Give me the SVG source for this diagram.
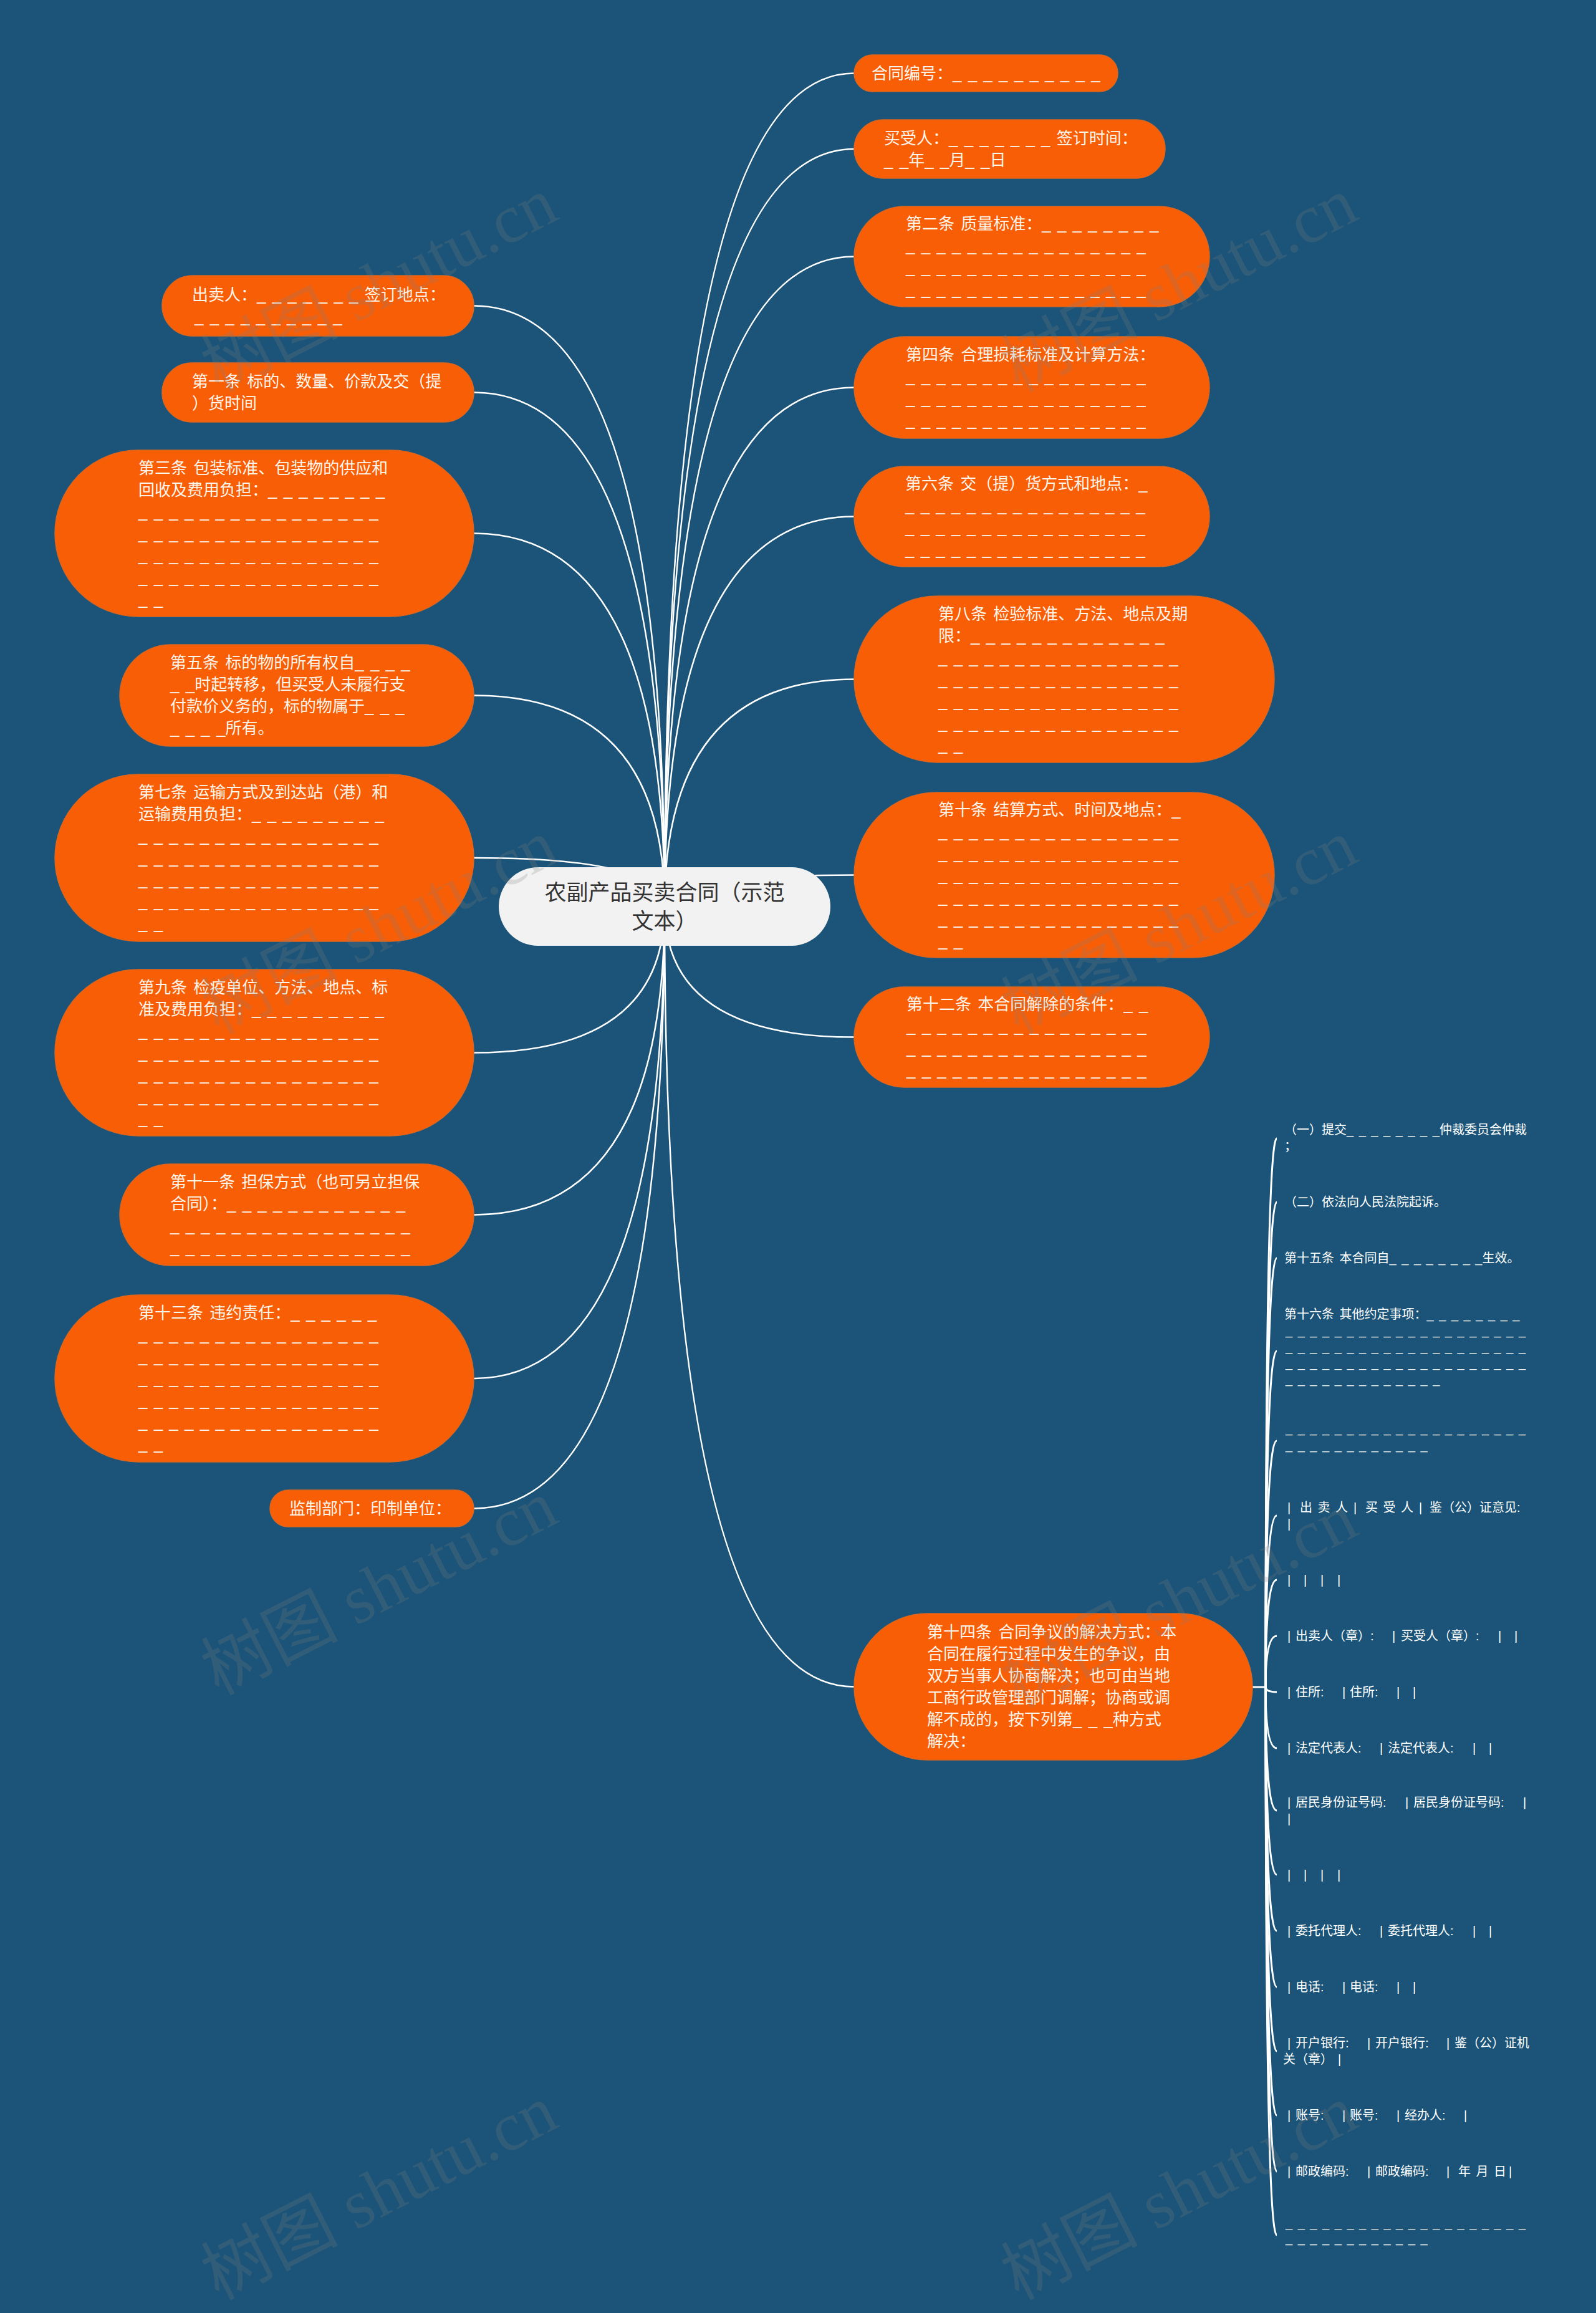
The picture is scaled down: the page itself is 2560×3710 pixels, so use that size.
<svg xmlns="http://www.w3.org/2000/svg" width="2560" height="3710" viewBox="0 0 2560 3710">
<style>
.bg{fill:#1b5478}
.n{fill:#f85e06;stroke:#dc661e;stroke-width:1.5}
.root{fill:#f2f2f2}
.t{font-family:"Liberation Sans","Noto Sans CJK SC",sans-serif;font-size:26px;fill:#fdf6ec;word-spacing:3px}
.rt{font-family:"Liberation Sans","Noto Sans CJK SC",sans-serif;font-size:35px;fill:#333333;text-anchor:middle}
.c{font-family:"Liberation Sans","Noto Sans CJK SC",sans-serif;font-size:20px;fill:#ffffff;word-spacing:3px}
.e{fill:none;stroke:#ffffff;stroke-width:2.5}
.e2{fill:none;stroke:#ffffff;stroke-width:3}
.wm{font-family:"Liberation Serif","Noto Sans CJK SC",serif;font-size:110px;fill:#808080;opacity:0.22}
</style>
<rect class="bg" x="0" y="0" width="2560" height="3710"/>

<g id="connectors">
<path class="e" d="M1066 1454 Q1066 117.5 1370 117.5"/>
<path class="e" d="M1066 1454 Q1066 239 1370 239"/>
<path class="e" d="M1066 1454 Q1066 411.5 1370 411.5"/>
<path class="e" d="M1066 1454 Q1066 621.5 1370 621.5"/>
<path class="e" d="M1066 1454 Q1066 828.5 1370 828.5"/>
<path class="e" d="M1066 1454 Q1066 1089.5 1370 1089.5"/>
<path class="e" d="M1066 1454 Q1066 1403.5 1370 1403.5"/>
<path class="e" d="M1066 1454 Q1066 1663.5 1370 1663.5"/>
<path class="e" d="M1066 1454 Q1066 2705.5 1370 2705.5"/>
<path class="e" d="M1066 1454 Q1066 490.5 760 490.5"/>
<path class="e" d="M1066 1454 Q1066 629.5 760 629.5"/>
<path class="e" d="M1066 1454 Q1066 855.5 760 855.5"/>
<path class="e" d="M1066 1454 Q1066 1115.5 760 1115.5"/>
<path class="e" d="M1066 1454 Q1066 1376 760 1376"/>
<path class="e" d="M1066 1454 Q1066 1688.5 760 1688.5"/>
<path class="e" d="M1066 1454 Q1066 1948.5 760 1948.5"/>
<path class="e" d="M1066 1454 Q1066 2211 760 2211"/>
<path class="e" d="M1066 1454 Q1066 2419.5 760 2419.5"/>
<path class="e2" d="M2009 2706 L2030 2706"/>
<path class="e2" d="M2030 2706 Q2030 1826 2048 1826"/>
<path class="e2" d="M2030 2706 Q2030 1928 2048 1928"/>
<path class="e2" d="M2030 2706 Q2030 2018 2048 2018"/>
<path class="e2" d="M2030 2706 Q2030 2167 2048 2167"/>
<path class="e2" d="M2030 2706 Q2030 2311 2048 2311"/>
<path class="e2" d="M2030 2706 Q2030 2431 2048 2431"/>
<path class="e2" d="M2030 2706 Q2030 2534 2048 2534"/>
<path class="e2" d="M2030 2706 Q2030 2624 2048 2624"/>
<path class="e2" d="M2030 2706 Q2030 2714 2048 2714"/>
<path class="e2" d="M2030 2706 Q2030 2804 2048 2804"/>
<path class="e2" d="M2030 2706 Q2030 2904 2048 2904"/>
<path class="e2" d="M2030 2706 Q2030 3007 2048 3007"/>
<path class="e2" d="M2030 2706 Q2030 3097 2048 3097"/>
<path class="e2" d="M2030 2706 Q2030 3187 2048 3187"/>
<path class="e2" d="M2030 2706 Q2030 3290 2048 3290"/>
<path class="e2" d="M2030 2706 Q2030 3393 2048 3393"/>
<path class="e2" d="M2030 2706 Q2030 3483 2048 3483"/>
<path class="e2" d="M2030 2706 Q2030 3585 2048 3585"/>
</g>

<g id="root">
<rect class="root" x="800" y="1391" width="532" height="126" rx="63"/>
<text class="rt"><tspan x="1066" y="1444">农副产品买卖合同（示范</tspan><tspan x="1066" y="1490">文本）</tspan></text>
</g>

<g id="r1"><rect class="n" x="1370" y="88" width="423" height="59" rx="29.5"/>
<text class="t"><tspan x="1398" y="126.5">合同编号：_ _ _ _ _ _ _ _ _ _</tspan></text></g>

<g id="r2"><rect class="n" x="1370" y="192" width="499" height="94" rx="47"/>
<text class="t"><tspan x="1418" y="230.5">买受人：_ _ _ _ _ _ _ 签订时间：</tspan><tspan x="1418" y="265.5">_ _年_ _月_ _日</tspan></text></g>

<g id="r3"><rect class="n" x="1370" y="331" width="570" height="161" rx="80.5"/>
<text class="t"><tspan x="1453" y="368">第二条 质量标准：_ _ _ _ _ _ _ _</tspan><tspan x="1453" y="403">_ _ _ _ _ _ _ _ _ _ _ _ _ _ _ _</tspan><tspan x="1453" y="438">_ _ _ _ _ _ _ _ _ _ _ _ _ _ _ _</tspan><tspan x="1453" y="473">_ _ _ _ _ _ _ _ _ _ _ _ _ _ _ _</tspan></text></g>

<g id="r4"><rect class="n" x="1370" y="540" width="570" height="163" rx="81.5"/>
<text class="t"><tspan x="1453" y="578">第四条 合理损耗标准及计算方法：</tspan><tspan x="1453" y="613">_ _ _ _ _ _ _ _ _ _ _ _ _ _ _ _</tspan><tspan x="1453" y="648">_ _ _ _ _ _ _ _ _ _ _ _ _ _ _ _</tspan><tspan x="1453" y="683">_ _ _ _ _ _ _ _ _ _ _ _ _ _ _ _</tspan></text></g>

<g id="r5"><rect class="n" x="1370" y="748" width="570" height="161" rx="80.5"/>
<text class="t"><tspan x="1452" y="785">第六条 交（提）货方式和地点：_</tspan><tspan x="1452" y="820">_ _ _ _ _ _ _ _ _ _ _ _ _ _ _ _</tspan><tspan x="1452" y="855">_ _ _ _ _ _ _ _ _ _ _ _ _ _ _ _</tspan><tspan x="1452" y="890">_ _ _ _ _ _ _ _ _ _ _ _ _ _ _ _</tspan></text></g>

<g id="r6"><rect class="n" x="1370" y="956" width="674" height="267" rx="133.5"/>
<text class="t"><tspan x="1505" y="993.5">第八条 检验标准、方法、地点及期</tspan><tspan x="1505" y="1028.5">限：_ _ _ _ _ _ _ _ _ _ _ _ _</tspan><tspan x="1505" y="1063.5">_ _ _ _ _ _ _ _ _ _ _ _ _ _ _ _</tspan><tspan x="1505" y="1098.5">_ _ _ _ _ _ _ _ _ _ _ _ _ _ _ _</tspan><tspan x="1505" y="1133.5">_ _ _ _ _ _ _ _ _ _ _ _ _ _ _ _</tspan><tspan x="1505" y="1168.5">_ _ _ _ _ _ _ _ _ _ _ _ _ _ _ _</tspan><tspan x="1505" y="1203.5">_ _</tspan></text></g>

<g id="r7"><rect class="n" x="1370" y="1271" width="674" height="265" rx="132.5"/>
<text class="t"><tspan x="1505" y="1307.5">第十条 结算方式、时间及地点：_</tspan><tspan x="1505" y="1342.5">_ _ _ _ _ _ _ _ _ _ _ _ _ _ _ _</tspan><tspan x="1505" y="1377.5">_ _ _ _ _ _ _ _ _ _ _ _ _ _ _ _</tspan><tspan x="1505" y="1412.5">_ _ _ _ _ _ _ _ _ _ _ _ _ _ _ _</tspan><tspan x="1505" y="1447.5">_ _ _ _ _ _ _ _ _ _ _ _ _ _ _ _</tspan><tspan x="1505" y="1482.5">_ _ _ _ _ _ _ _ _ _ _ _ _ _ _ _</tspan><tspan x="1505" y="1517.5">_ _</tspan></text></g>

<g id="r8"><rect class="n" x="1370" y="1583" width="570" height="161" rx="80.5"/>
<text class="t"><tspan x="1454" y="1620">第十二条 本合同解除的条件：_ _</tspan><tspan x="1454" y="1655">_ _ _ _ _ _ _ _ _ _ _ _ _ _ _ _</tspan><tspan x="1454" y="1690">_ _ _ _ _ _ _ _ _ _ _ _ _ _ _ _</tspan><tspan x="1454" y="1725">_ _ _ _ _ _ _ _ _ _ _ _ _ _ _ _</tspan></text></g>

<g id="r9"><rect class="n" x="1370" y="2588" width="639" height="235" rx="117.5"/>
<text class="t"><tspan x="1487" y="2627">第十四条 合同争议的解决方式：本</tspan><tspan x="1487" y="2662">合同在履行过程中发生的争议，由</tspan><tspan x="1487" y="2697">双方当事人协商解决；也可由当地</tspan><tspan x="1487" y="2732">工商行政管理部门调解；协商或调</tspan><tspan x="1487" y="2767">解不成的，按下列第_ _ _种方式</tspan><tspan x="1487" y="2802">解决：</tspan></text></g>

<g id="l1"><rect class="n" x="260" y="442" width="500" height="97" rx="48.5"/>
<text class="t"><tspan x="308" y="482">出卖人：_ _ _ _ _ _ _ 签订地点：</tspan><tspan x="312" y="517">_ _ _ _ _ _ _ _ _ _</tspan></text></g>

<g id="l2"><rect class="n" x="260" y="582" width="500" height="95" rx="47.5"/>
<text class="t"><tspan x="308" y="621">第一条 标的、数量、价款及交（提</tspan><tspan x="308" y="656">）货时间</tspan></text></g>

<g id="l3"><rect class="n" x="88" y="722" width="672" height="267" rx="133.5"/>
<text class="t"><tspan x="222" y="759.5">第三条 包装标准、包装物的供应和</tspan><tspan x="222" y="794.5">回收及费用负担：_ _ _ _ _ _ _ _</tspan><tspan x="222" y="829.5">_ _ _ _ _ _ _ _ _ _ _ _ _ _ _ _</tspan><tspan x="222" y="864.5">_ _ _ _ _ _ _ _ _ _ _ _ _ _ _ _</tspan><tspan x="222" y="899.5">_ _ _ _ _ _ _ _ _ _ _ _ _ _ _ _</tspan><tspan x="222" y="934.5">_ _ _ _ _ _ _ _ _ _ _ _ _ _ _ _</tspan><tspan x="222" y="969.5">_ _</tspan></text></g>

<g id="l4"><rect class="n" x="192" y="1034" width="568" height="163" rx="81.5"/>
<text class="t"><tspan x="273" y="1072">第五条 标的物的所有权自_ _ _ _</tspan><tspan x="273" y="1107">_ _时起转移，但买受人未履行支</tspan><tspan x="273" y="1142">付款价义务的，标的物属于_ _ _</tspan><tspan x="273" y="1177">_ _ _ _所有。</tspan></text></g>

<g id="l5"><rect class="n" x="88" y="1242" width="672" height="268" rx="134"/>
<text class="t"><tspan x="222" y="1280">第七条 运输方式及到达站（港）和</tspan><tspan x="222" y="1315">运输费用负担：_ _ _ _ _ _ _ _ _</tspan><tspan x="222" y="1350">_ _ _ _ _ _ _ _ _ _ _ _ _ _ _ _</tspan><tspan x="222" y="1385">_ _ _ _ _ _ _ _ _ _ _ _ _ _ _ _</tspan><tspan x="222" y="1420">_ _ _ _ _ _ _ _ _ _ _ _ _ _ _ _</tspan><tspan x="222" y="1455">_ _ _ _ _ _ _ _ _ _ _ _ _ _ _ _</tspan><tspan x="222" y="1490">_ _</tspan></text></g>

<g id="l6"><rect class="n" x="88" y="1555" width="672" height="267" rx="133.5"/>
<text class="t"><tspan x="222" y="1592.5">第九条 检疫单位、方法、地点、标</tspan><tspan x="222" y="1627.5">准及费用负担：_ _ _ _ _ _ _ _ _</tspan><tspan x="222" y="1662.5">_ _ _ _ _ _ _ _ _ _ _ _ _ _ _ _</tspan><tspan x="222" y="1697.5">_ _ _ _ _ _ _ _ _ _ _ _ _ _ _ _</tspan><tspan x="222" y="1732.5">_ _ _ _ _ _ _ _ _ _ _ _ _ _ _ _</tspan><tspan x="222" y="1767.5">_ _ _ _ _ _ _ _ _ _ _ _ _ _ _ _</tspan><tspan x="222" y="1802.5">_ _</tspan></text></g>

<g id="l7"><rect class="n" x="192" y="1867" width="568" height="163" rx="81.5"/>
<text class="t"><tspan x="273" y="1905">第十一条 担保方式（也可另立担保</tspan><tspan x="273" y="1940">合同）：_ _ _ _ _ _ _ _ _ _ _ _</tspan><tspan x="273" y="1975">_ _ _ _ _ _ _ _ _ _ _ _ _ _ _ _</tspan><tspan x="273" y="2010">_ _ _ _ _ _ _ _ _ _ _ _ _ _ _ _</tspan></text></g>

<g id="l8"><rect class="n" x="88" y="2077" width="672" height="268" rx="134"/>
<text class="t"><tspan x="222" y="2115">第十三条 违约责任：_ _ _ _ _ _</tspan><tspan x="222" y="2150">_ _ _ _ _ _ _ _ _ _ _ _ _ _ _ _</tspan><tspan x="222" y="2185">_ _ _ _ _ _ _ _ _ _ _ _ _ _ _ _</tspan><tspan x="222" y="2220">_ _ _ _ _ _ _ _ _ _ _ _ _ _ _ _</tspan><tspan x="222" y="2255">_ _ _ _ _ _ _ _ _ _ _ _ _ _ _ _</tspan><tspan x="222" y="2290">_ _ _ _ _ _ _ _ _ _ _ _ _ _ _ _</tspan><tspan x="222" y="2325">_ _</tspan></text></g>

<g id="l9"><rect class="n" x="433" y="2390" width="327" height="59" rx="29.5"/>
<text class="t"><tspan x="464" y="2428.5">监制部门：印制单位：</tspan></text></g>

<g id="c1"><text class="c"><tspan x="2060" y="1819">（一）提交_ _ _ _ _ _ _ _仲裁委员会仲裁</tspan><tspan x="2060" y="1845">；</tspan></text></g>
<g id="c2"><text class="c"><tspan x="2060" y="1935">（二）依法向人民法院起诉。</tspan></text></g>
<g id="c3"><text class="c"><tspan x="2060" y="2025">第十五条 本合同自_ _ _ _ _ _ _ _生效。</tspan></text></g>
<g id="c4"><text class="c"><tspan x="2060" y="2115">第十六条 其他约定事项：_ _ _ _ _ _ _ _</tspan><tspan x="2062" y="2141">_ _ _ _ _ _ _ _ _ _ _ _ _ _ _ _ _ _ _ _</tspan><tspan x="2062" y="2167">_ _ _ _ _ _ _ _ _ _ _ _ _ _ _ _ _ _ _ _</tspan><tspan x="2062" y="2193">_ _ _ _ _ _ _ _ _ _ _ _ _ _ _ _ _ _ _ _</tspan><tspan x="2062" y="2219">_ _ _ _ _ _ _ _ _ _ _ _ _</tspan></text></g>
<g id="c5"><text class="c"><tspan x="2062" y="2298">_ _ _ _ _ _ _ _ _ _ _ _ _ _ _ _ _ _ _ _</tspan><tspan x="2062" y="2325">_ _ _ _ _ _ _ _ _ _ _ _</tspan></text></g>
<g id="c6"><text class="c"><tspan x="2065" y="2425">|</tspan><tspan x="2085" y="2425">出 卖 人</tspan><tspan x="2171" y="2425">|</tspan><tspan x="2190" y="2425">买 受 人</tspan><tspan x="2276" y="2425">|</tspan><tspan x="2293" y="2425">鉴（公）证意见:</tspan><tspan x="2065" y="2451">|</tspan></text></g>
<g id="c7"><text class="c"><tspan x="2065" y="2541">|</tspan><tspan x="2091" y="2541">|</tspan><tspan x="2118" y="2541">|</tspan><tspan x="2145" y="2541">|</tspan></text></g>
<g id="c8"><text class="c"><tspan x="2065" y="2631">|</tspan><tspan x="2078" y="2631">出卖人（章）:</tspan><tspan x="2233" y="2631">|</tspan><tspan x="2247" y="2631">买受人（章）:</tspan><tspan x="2403" y="2631">|</tspan><tspan x="2429" y="2631">|</tspan></text></g>
<g id="c9"><text class="c"><tspan x="2065" y="2721">|</tspan><tspan x="2078" y="2721">住所:</tspan><tspan x="2153" y="2721">|</tspan><tspan x="2165" y="2721">住所:</tspan><tspan x="2240" y="2721">|</tspan><tspan x="2266" y="2721">|</tspan></text></g>
<g id="c10"><text class="c"><tspan x="2065" y="2811">|</tspan><tspan x="2078" y="2811">法定代表人:</tspan><tspan x="2213" y="2811">|</tspan><tspan x="2226" y="2811">法定代表人:</tspan><tspan x="2362" y="2811">|</tspan><tspan x="2388" y="2811">|</tspan></text></g>
<g id="c11"><text class="c"><tspan x="2065" y="2898">|</tspan><tspan x="2078" y="2898">居民身份证号码:</tspan><tspan x="2254" y="2898">|</tspan><tspan x="2267" y="2898">居民身份证号码:</tspan><tspan x="2443" y="2898">|</tspan><tspan x="2065" y="2924">|</tspan></text></g>
<g id="c12"><text class="c"><tspan x="2065" y="3014">|</tspan><tspan x="2091" y="3014">|</tspan><tspan x="2118" y="3014">|</tspan><tspan x="2145" y="3014">|</tspan></text></g>
<g id="c13"><text class="c"><tspan x="2065" y="3104">|</tspan><tspan x="2078" y="3104">委托代理人:</tspan><tspan x="2213" y="3104">|</tspan><tspan x="2226" y="3104">委托代理人:</tspan><tspan x="2362" y="3104">|</tspan><tspan x="2388" y="3104">|</tspan></text></g>
<g id="c14"><text class="c"><tspan x="2065" y="3194">|</tspan><tspan x="2078" y="3194">电话:</tspan><tspan x="2153" y="3194">|</tspan><tspan x="2165" y="3194">电话:</tspan><tspan x="2240" y="3194">|</tspan><tspan x="2266" y="3194">|</tspan></text></g>
<g id="c15"><text class="c"><tspan x="2065" y="3284">|</tspan><tspan x="2078" y="3284">开户银行:</tspan><tspan x="2193" y="3284">|</tspan><tspan x="2206" y="3284">开户银行:</tspan><tspan x="2320" y="3284">|</tspan><tspan x="2333" y="3284">鉴（公）证机</tspan><tspan x="2058" y="3310">关（章）</tspan><tspan x="2146" y="3310">|</tspan></text></g>
<g id="c16"><text class="c"><tspan x="2065" y="3400">|</tspan><tspan x="2078" y="3400">账号:</tspan><tspan x="2153" y="3400">|</tspan><tspan x="2165" y="3400">账号:</tspan><tspan x="2240" y="3400">|</tspan><tspan x="2253" y="3400">经办人:</tspan><tspan x="2348" y="3400">|</tspan></text></g>
<g id="c17"><text class="c"><tspan x="2065" y="3490">|</tspan><tspan x="2078" y="3490">邮政编码:</tspan><tspan x="2193" y="3490">|</tspan><tspan x="2206" y="3490">邮政编码:</tspan><tspan x="2320" y="3490">|</tspan><tspan x="2339" y="3490">年 月 日</tspan><tspan x="2420" y="3490">|</tspan></text></g>
<g id="c18"><text class="c"><tspan x="2062" y="3572">_ _ _ _ _ _ _ _ _ _ _ _ _ _ _ _ _ _ _ _</tspan><tspan x="2062" y="3597">_ _ _ _ _ _ _ _ _ _ _ _</tspan></text></g>

<g id="watermark">
<text class="wm" transform="rotate(-27 350 630)" x="350" y="630">树图 shutu.cn</text>
<text class="wm" transform="rotate(-27 1633 630)" x="1633" y="630">树图 shutu.cn</text>
<text class="wm" transform="rotate(-27 350 1660)" x="350" y="1660">树图 shutu.cn</text>
<text class="wm" transform="rotate(-27 1633 1660)" x="1633" y="1660">树图 shutu.cn</text>
<text class="wm" transform="rotate(-27 350 2720)" x="350" y="2720">树图 shutu.cn</text>
<text class="wm" transform="rotate(-27 1633 2740)" x="1633" y="2740">树图 shutu.cn</text>
<text class="wm" transform="rotate(-27 350 3690)" x="350" y="3690">树图 shutu.cn</text>
<text class="wm" transform="rotate(-27 1633 3690)" x="1633" y="3690">树图 shutu.cn</text>
</g>
</svg>
